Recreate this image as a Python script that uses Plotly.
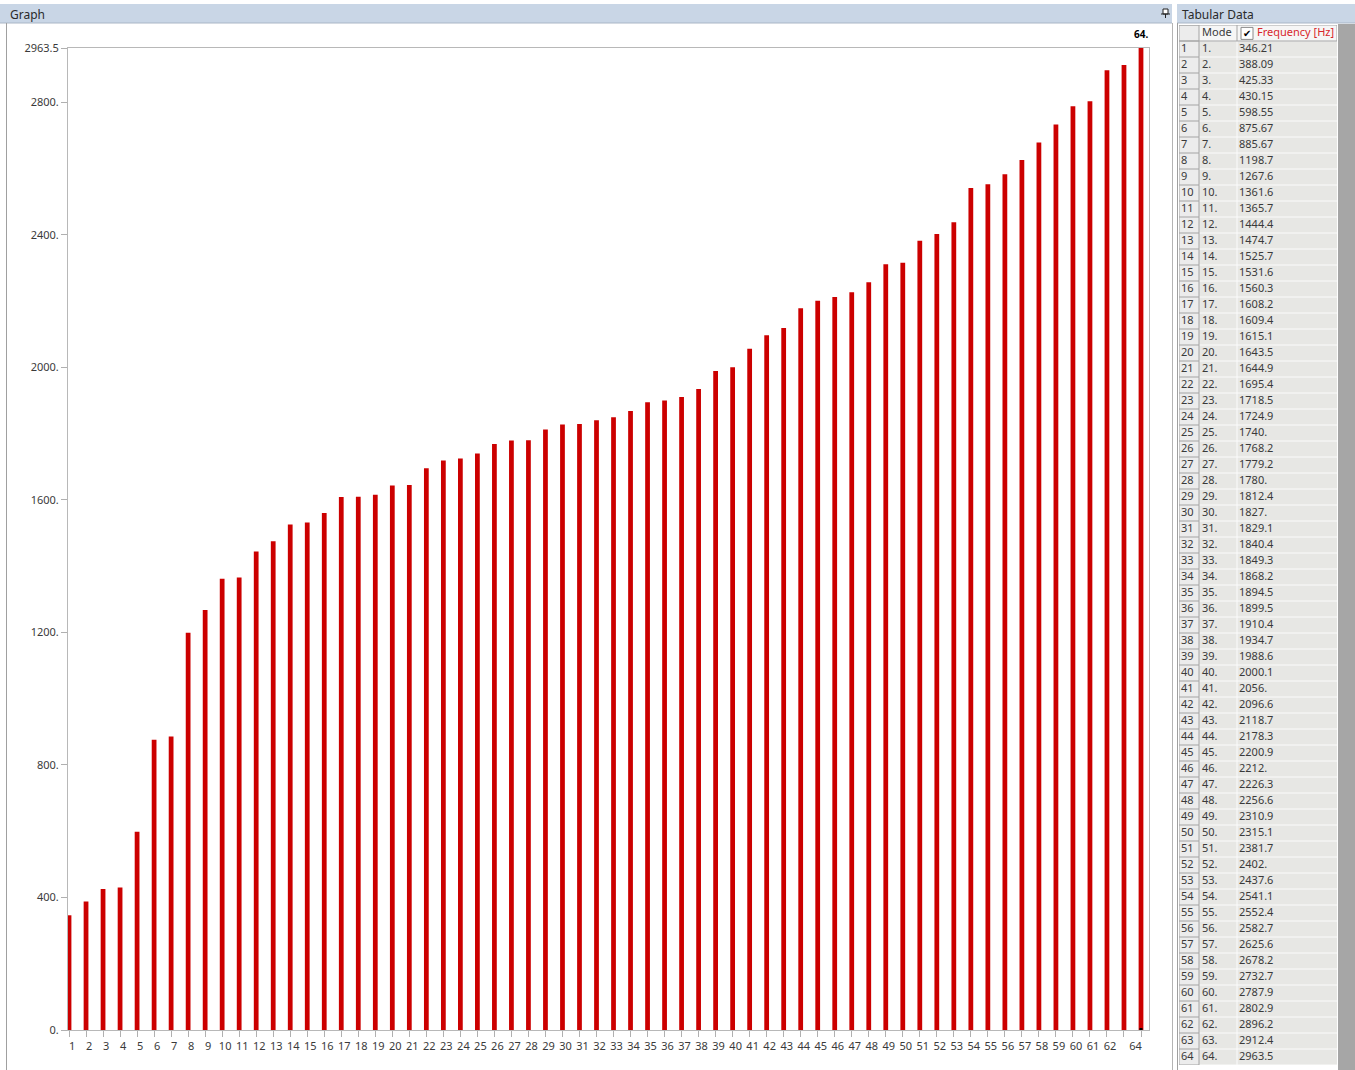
import plotly.graph_objects as go

# Modal analysis results: mode number and natural frequency [Hz]
modes = list(range(1, 65))
frequencies = [
    346.21, 388.09, 425.33, 430.15, 598.55, 875.67, 885.67, 1198.7,
    1267.6, 1361.6, 1365.7, 1444.4, 1474.7, 1525.7, 1531.6, 1560.3,
    1608.2, 1609.4, 1615.1, 1643.5, 1644.9, 1695.4, 1718.5, 1724.9,
    1740.0, 1768.2, 1779.2, 1780.0, 1812.4, 1827.0, 1829.1, 1840.4,
    1849.3, 1868.2, 1894.5, 1899.5, 1910.4, 1934.7, 1988.6, 2000.1,
    2056.0, 2096.6, 2118.7, 2178.3, 2200.9, 2212.0, 2226.3, 2256.6,
    2310.9, 2315.1, 2381.7, 2402.0, 2437.6, 2541.1, 2552.4, 2582.7,
    2625.6, 2678.2, 2732.7, 2787.9, 2802.9, 2896.2, 2912.4, 2963.5,
]
y_ticks = [0, 400, 800, 1200, 1600, 2000, 2400, 2800, 2963.5]
hidden_x_labels = [63]
selected_mode = 64
table_columns = ["", "Mode", "Frequency [Hz]"]

W, H = 1355, 1070
FONT = "Noto Sans, Open Sans, DejaVu Sans, sans-serif"
TEXT = "#3a3a3a"
NBSP = "\u00a0"


def fmt(v):
    """Workbench-style number: 5 significant digits, trailing dot for integers."""
    s = f"{v:.5g}"
    return s if "." in s else s + "."


def px(x):
    return x / W


def py(y):
    return 1 - y / H


fig = go.Figure()

# ---- frequency bar graph -------------------------------------------------
fig.add_trace(go.Bar(
    x=modes, y=frequencies, width=0.28,
    marker=dict(color="#cc0000", line=dict(width=0)),
    hoverinfo="skip", showlegend=False,
))

# ---- tabular data grid (x2 in pixels across the table, y2 in rows) ---------
col_edges = [0, 20, 58, 158]
n_rows = len(modes) + 1  # header + data rows


def segs(pairs):
    xs, ys = [], []
    for (x0, y0), (x1, y1) in pairs:
        xs += [x0, x1, None]
        ys += [y0, y1, None]
    return xs, ys


# light cell separators in the Mode / Frequency columns
lx, ly = segs([((col_edges[1], r), (col_edges[3], r)) for r in range(1, n_rows + 1)]
              + [((col_edges[2], 1), (col_edges[2], n_rows))])
fig.add_trace(go.Scatter(x=lx, y=ly, xaxis="x2", yaxis="y2", mode="lines",
                         line=dict(color="#fbfbfb", width=1), cliponaxis=False,
                         hoverinfo="skip", showlegend=False))
# darker row-header borders and header row frame
dx, dy = segs([((col_edges[0], r), (col_edges[1], r)) for r in range(0, n_rows + 1)]
              + [((col_edges[0], 0), (col_edges[3], 0)),
                 ((col_edges[0], 1), (col_edges[3], 1)),
                 ((col_edges[0], 0), (col_edges[0], n_rows)),
                 ((col_edges[1], 0), (col_edges[1], n_rows)),
                 ((col_edges[2], 0), (col_edges[2], 1)),
                 ((col_edges[3], 0), (col_edges[3], 1))])
fig.add_trace(go.Scatter(x=dx, y=dy, xaxis="x2", yaxis="y2", mode="lines",
                         line=dict(color="#a4a4a4", width=1), cliponaxis=False,
                         hoverinfo="skip", showlegend=False))

rows_y = [i + 1.5 for i in range(len(modes))]
cell_font = dict(family=FONT, size=11, color=TEXT)
for x_pos, texts in [(2, [str(m) for m in modes]),
                     (23, [f"{m}." for m in modes]),
                     (60, [fmt(f) for f in frequencies])]:
    fig.add_trace(go.Scatter(x=[x_pos] * len(texts), y=rows_y, text=texts,
                             xaxis="x2", yaxis="y2", mode="text",
                             textposition="middle right", textfont=cell_font,
                             cliponaxis=False, hoverinfo="skip", showlegend=False))
fig.add_trace(go.Scatter(x=[2, 23, 78], y=[0.5, 0.5, 0.5], text=table_columns,
                         xaxis="x2", yaxis="y2", mode="text",
                         textposition="middle right",
                         textfont=dict(family=FONT, size=11,
                                       color=[TEXT, TEXT, "#d8262c"]),
                         cliponaxis=False, hoverinfo="skip", showlegend=False))

shapes = []
# panel title bars
for x0, x1 in [(0, 1172), (1177, W)]:
    shapes.append(dict(type="rect", xref="paper", yref="paper",
                       x0=px(x0), x1=px(x1), y0=py(23), y1=py(4),
                       fillcolor="#c9d6e6", line=dict(width=0), layer="below"))
    shapes.append(dict(type="line", xref="paper", yref="paper",
                       x0=px(x0), x1=px(x1), y0=py(23), y1=py(23),
                       line=dict(color="#a9b6c6", width=1), layer="below"))
# panel borders
for xb, col in [(6.5, "#a0a0a0"), (1172.5, "#b4b4b4"), (1177.5, "#a0a0a0")]:
    shapes.append(dict(type="line", xref="paper", yref="paper",
                       x0=px(xb), x1=px(xb), y0=py(H), y1=py(23),
                       line=dict(color=col, width=1), layer="below"))
# scroll gutter beside the table
shapes.append(dict(type="rect", xref="paper", yref="paper",
                   x0=px(1338), x1=px(W), y0=py(H), y1=py(24),
                   fillcolor="#a6a6a6", line=dict(width=0), layer="below"))
# table cell fills
shapes.append(dict(type="rect", xref="x2", yref="y2", x0=col_edges[0], x1=col_edges[1],
                   y0=0, y1=n_rows, fillcolor="#ececec", line=dict(width=0), layer="below"))
shapes.append(dict(type="rect", xref="x2", yref="y2", x0=col_edges[1], x1=col_edges[3],
                   y0=1, y1=n_rows, fillcolor="#e7e7e4", line=dict(width=0), layer="below"))
shapes.append(dict(type="rect", xref="x2", yref="y2", x0=col_edges[1], x1=col_edges[3],
                   y0=0, y1=1, fillcolor="#f6f6f6", line=dict(width=0), layer="below"))
# header checkbox
shapes.append(dict(type="rect", xref="x2", yref="y2", x0=62, x1=74, y0=0.15, y1=0.9,
                   fillcolor="white", line=dict(color="#8a8a8a", width=1)))
# pin icon in the graph title bar
shapes.append(dict(type="rect", xref="paper", yref="paper",
                   x0=px(1163), x1=px(1168), y0=py(14), y1=py(9),
                   fillcolor="white", line=dict(color="#222", width=1)))
shapes.append(dict(type="line", xref="paper", yref="paper",
                   x0=px(1161), x1=px(1170), y0=py(14), y1=py(14),
                   line=dict(color="#222", width=1)))
shapes.append(dict(type="line", xref="paper", yref="paper",
                   x0=px(1165.5), x1=px(1165.5), y0=py(14), y1=py(18),
                   line=dict(color="#222", width=1)))
# selection marker on the highlighted mode
sel_val = frequencies[modes.index(selected_mode)]
shapes.append(dict(type="line", xref="x", yref="y", x0=selected_mode, x1=selected_mode,
                   ysizemode="pixel", yanchor=sel_val, y0=0, y1=6,
                   line=dict(color="black", width=3)))
shapes.append(dict(type="line", xref="x", yref="y", x0=selected_mode, x1=selected_mode,
                   ysizemode="pixel", yanchor=0, y0=-1, y1=2,
                   line=dict(color="black", width=3)))

annotations = [
    dict(text="Graph", xref="paper", yref="paper", x=px(8), y=py(14),
         xanchor="left", yanchor="middle", showarrow=False,
         font=dict(family=FONT, size=12, color="#2a2a2a")),
    dict(text="Tabular Data", xref="paper", yref="paper", x=px(1180), y=py(14),
         xanchor="left", yanchor="middle", showarrow=False,
         font=dict(family=FONT, size=12, color="#2a2a2a")),
    dict(text="✔", xref="x2", yref="y2", x=68, y=0.52,
         xanchor="center", yanchor="middle", showarrow=False,
         font=dict(family="DejaVu Sans", size=10, color="black")),
    dict(text=f"<b>{selected_mode}.</b>", xref="x", yref="y", x=selected_mode, y=sel_val,
         xanchor="center", yanchor="bottom", yshift=5, showarrow=False,
         font=dict(family=FONT, size=10, color="black")),
]

# last label is pulled left so it stays inside the frame
x_labels = ["" if m in hidden_x_labels else str(m) for m in modes]
x_labels[-1] = x_labels[-1] + NBSP * 6

fig.update_layout(
    width=W, height=H,
    margin=dict(l=0, r=0, t=0, b=0, autoexpand=False),
    paper_bgcolor="white", plot_bgcolor="white",
    showlegend=False,
    shapes=shapes, annotations=annotations,
    xaxis=dict(
        domain=[px(68), px(1149)], range=[0.94, 64.47], anchor="y",
        tickmode="array", tickvals=modes, ticktext=x_labels,
        ticks="outside", ticklen=6, tickcolor="#b0b0b0", tickwidth=1,
        showline=True, linecolor="#b8b8b8", linewidth=1, mirror=True,
        showgrid=False, zeroline=False, ticklabelshift=3, automargin=False,
        tickfont=dict(family=FONT, size=11, color=TEXT), fixedrange=True,
    ),
    yaxis=dict(
        domain=[py(1030), py(48)], range=[0, 2963.5], anchor="x",
        tickmode="array", tickvals=y_ticks, ticktext=[fmt(v) for v in y_ticks],
        ticks="outside", ticklen=6, tickcolor="#b0b0b0", tickwidth=1,
        showline=True, linecolor="#b8b8b8", linewidth=1, mirror=True,
        showgrid=False, zeroline=False, automargin=False,
        tickfont=dict(family=FONT, size=11, color=TEXT), fixedrange=True,
    ),
    xaxis2=dict(domain=[px(1179), px(1337)], range=[0, 158], anchor="y2",
                visible=False, fixedrange=True, automargin=False),
    yaxis2=dict(domain=[py(1065), py(25)], range=[n_rows, 0], anchor="x2",
                visible=False, fixedrange=True, automargin=False),
)

fig.write_html("out.html", config={"displayModeBar": False})
